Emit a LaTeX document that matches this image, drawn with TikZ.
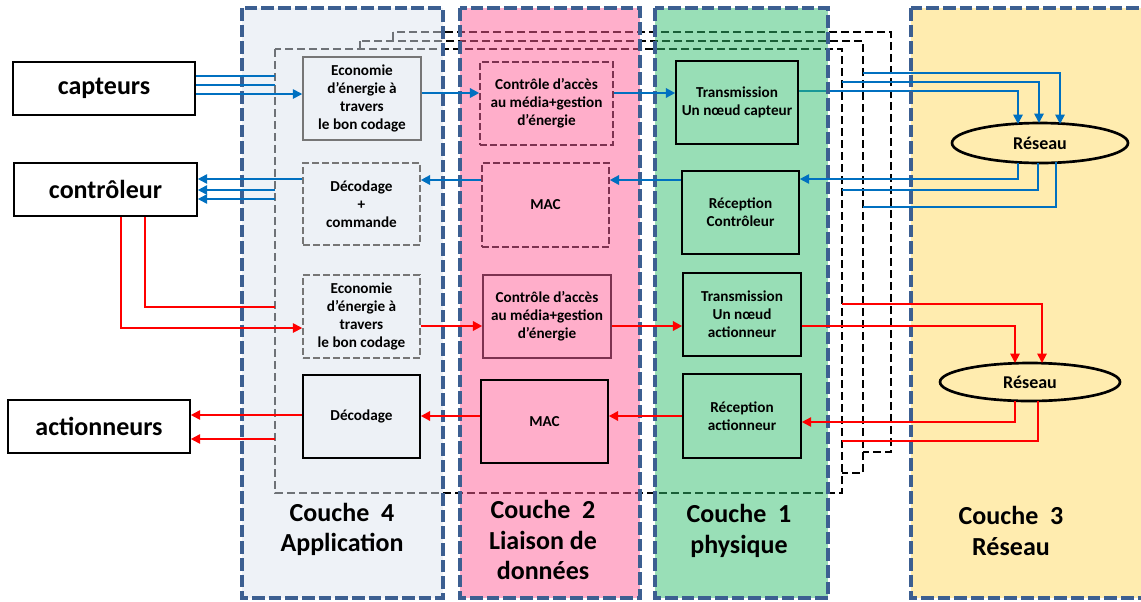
\documentclass[tikz,border=0pt]{standalone}
\usepackage{fontspec}
\setmainfont{Carlito}
\usetikzlibrary{arrows.meta,shapes.geometric}
\definecolor{lyrblue}{RGB}{60,95,145}
\definecolor{abl}{RGB}{0,112,192}
\definecolor{ard}{RGB}{255,0,0}
\definecolor{fillA}{RGB}{221,229,239}
\definecolor{fillB}{RGB}{255,95,151}
\definecolor{fillC}{RGB}{51,191,111}
\definecolor{fillD}{RGB}{255,236,175}
\definecolor{grayb}{RGB}{118,118,118}
\definecolor{mauve}{RGB}{125,50,80}
\begin{document}
\begin{tikzpicture}[x=0.75pt,y=-0.75pt,
  wh/.style 2 args={minimum width=#1*0.75pt,minimum height=#2*0.75pt},
  bx/.style={draw=black,line width=1.2pt,align=center,inner sep=0pt,
    font=\bfseries\fontsize{11.4}{13.5}\selectfont},
  gbx/.style={bx,draw=grayb,line width=1.1pt,dash pattern=on 5pt off 2.5pt},
  gsx/.style={bx,draw=grayb,line width=1.1pt},
  mbx/.style={bx,draw=mauve,line width=1.1pt,dash pattern=on 5pt off 2.5pt},
  msx/.style={bx,draw=mauve,line width=1.1pt},
  ext/.style={draw=black,line width=1.2pt,inner sep=0pt,
    font=\bfseries\fontsize{19.5}{23}\selectfont},
  lbl/.style={font=\bfseries\fontsize{19.5}{23}\selectfont,align=center,inner sep=0pt},
  res/.style={ellipse,draw=black,line width=2pt,inner sep=0pt,
    font=\bfseries\fontsize{13.5}{16}\selectfont},
  dr/.style={draw=black,fill=white,line width=1.3pt,dash pattern=on 6pt off 3pt},
  lay/.style={draw=lyrblue,line width=3pt,dash pattern=on 9.5pt off 3pt},
  ab/.style={draw=abl,line width=1.3pt},
  aba/.style={ab,-{Triangle[length=7pt,width=7pt]}},
  abt/.style={draw=abl,line width=1.7pt,-{Triangle[length=7pt,width=7pt]}},
  ar/.style={draw=ard,line width=1.3pt},
  ara/.style={ar,-{Triangle[length=7pt,width=7pt]}},
  art/.style={draw=ard,line width=2pt,-{Triangle[length=7pt,width=7pt]}}
]
\useasboundingbox (0,0) rectangle (1141,601);

% yellow layer (opaque)
\fill[fillD] (911,8) rectangle (1160,598);

% stacked dashed frames
\draw[dr] (393,32) rectangle (891,452);
\draw[dr] (360,41) rectangle (863,473);
\draw[dr] (275,49) rectangle (842,493);
\coordinate (F1W) at (275,0);
\coordinate (F1E) at (842,0);
\coordinate (F2E) at (863,0);

% network nodes
\node[res,wh={176}{40}] (res1) at (1040,143) {Réseau};
\node[res,wh={180}{38}] (res2) at (1030,382) {Réseau};

% outline of the sensor transmission box (its connector runs under the overlay)
\node[inner sep=0pt,wh={122}{83}] (t1a) at (737,102.5) {};
\draw[aba] (t1a.east |- 0,91) -- (1018,91) -- (1018,124);

% translucent layers
\fill[fillA,opacity=0.5] (242,8) rectangle (443,598);
\fill[fillB,opacity=0.5] (460,8) rectangle (640,598);
\fill[fillC,opacity=0.5] (655,8) rectangle (828,598);

% layer borders
\draw[lay] (242,8) rectangle (443,598);
\draw[lay] (460,8) rectangle (640,598);
\draw[lay] (655,8) rectangle (828,598);
\draw[lay] (911,8) rectangle (1160,598);

% external boxes
\node[ext,wh={182}{53}] (capt) at (104,88.5) {capteurs};
\node[ext,wh={183}{53}] (ctrl) at (105.5,189.5) {contrôleur};
\node[ext,wh={182}{53}] (act) at (99,426.5) {actionneurs};

% layer 4
\node[gsx,wh={118}{83}] (e1) at (362,98.5) {Economie\\d’énergie à\\travers\\le bon codage};
\node[gbx,wh={117}{82}] (dc) at (361.5,204) {Décodage\\+\\commande};
\node[gbx,wh={117}{83}] (e2) at (361.5,316.5) {Economie\\d’énergie à\\travers\\le bon codage};
\node[bx,wh={117}{83}] (dec) at (361.5,416.5) {Décodage};

% layer 2
\node[mbx,wh={133}{83}] (c1) at (546.5,103.5) {Contrôle d’accès\\au média+gestion\\d’énergie};
\node[mbx,wh={127}{84}] (m1) at (545.5,205) {MAC};
\node[msx,wh={128}{83}] (c2) at (547,316.5) {Contrôle d’accès\\au média+gestion\\d’énergie};
\node[bx,wh={127}{83}] (m2) at (544.5,421.5) {MAC};

% layer 1
\node[bx,wh={122}{83}] (t1) at (t1a) {Transmission\\Un nœud capteur};
\node[bx,wh={117}{83}] (r1) at (740.5,212.5) {Réception\\Contrôleur};
\node[bx,wh={118}{83}] (t2) at (742,314.5) {Transmission\\Un nœud\\actionneur};
\node[bx,wh={118}{84}] (r2) at (742,416) {Réception\\actionneur};

% layer titles
\node[lbl] (l4) at (342,529.5) {Couche\ \ 4\\Application};
\node[lbl] (l2) at (543,540) {Couche\ \ 2\\Liaison de\\données};
\node[lbl] (l1) at (739,531) {Couche\ \ 1\\physique};
\node[lbl] (l3) at (1011,531) {Couche\ \ 3\\Réseau};

% ---- blue (capteurs) path
\draw[ab] (capt.east |- 0,76) -- (F1W |- 0,76);
\draw[ab] (capt.east |- 0,85) -- (F1W |- 0,85);
\draw[aba] (capt.east |- 0,94) -- (e1.west |- 0,94);
\draw[abt] (e1.east |- 0,93) -- (c1.west |- 0,93);
\draw[abt] (c1.east |- 0,93) -- (t1.west |- 0,93);
\draw[aba] (F1E |- 0,82) -- (1039,82) -- (1039,123);
\draw[aba] (F2E |- 0,73) -- (1060,73) -- (1060,124);

% ---- blue (contrôleur) path
\draw[aba] (1018,162.5) -- (1018,179) -- (r1.east |- 0,179);
\draw[ab] (1038,163) -- (1038,190) -- (F1E |- 0,190);
\draw[ab] (1056,162) -- (1056,207) -- (F2E |- 0,207);
\draw[abt] (r1.west |- 0,180) -- (m1.east |- 0,180);
\draw[abt] (m1.west |- 0,180) -- (dc.east |- 0,180);
\draw[aba] (dc.west |- 0,179) -- (ctrl.east |- 0,179);
\draw[aba] (F1W |- 0,190) -- (ctrl.east |- 0,190);
\draw[aba] (F1W |- 0,199) -- (ctrl.east |- 0,199);

% ---- red (actionneur) path
\draw[ara] (ctrl.south -| 121,0) -- (121,328) -- (e2.west |- 0,328);
\draw[ar] (ctrl.south -| 145,0) -- (145,307) -- (F1W |- 0,307);
\draw[art] (e2.east |- 0,326) -- (c2.west |- 0,326);
\draw[art] (c2.east |- 0,326) -- (t2.west |- 0,326);
\draw[ara] (t2.east |- 0,326) -- (1015,326) -- (1015,363);
\draw[ara] (F1E |- 0,304) -- (1042,304) -- (1042,363);
\draw[ara] (1015,400.5) -- (1015,422) -- (r2.east |- 0,422);
\draw[ar] (1038,400.5) -- (1038,441) -- (F1E |- 0,441);
\draw[art] (r2.west |- 0,416) -- (m2.east |- 0,416);
\draw[art] (m2.west |- 0,416) -- (dec.east |- 0,416);
\draw[ara] (dec.west |- 0,415) -- (act.east |- 0,415);
\draw[ara] (F1W |- 0,439) -- (act.east |- 0,439);
\end{tikzpicture}
\end{document}
